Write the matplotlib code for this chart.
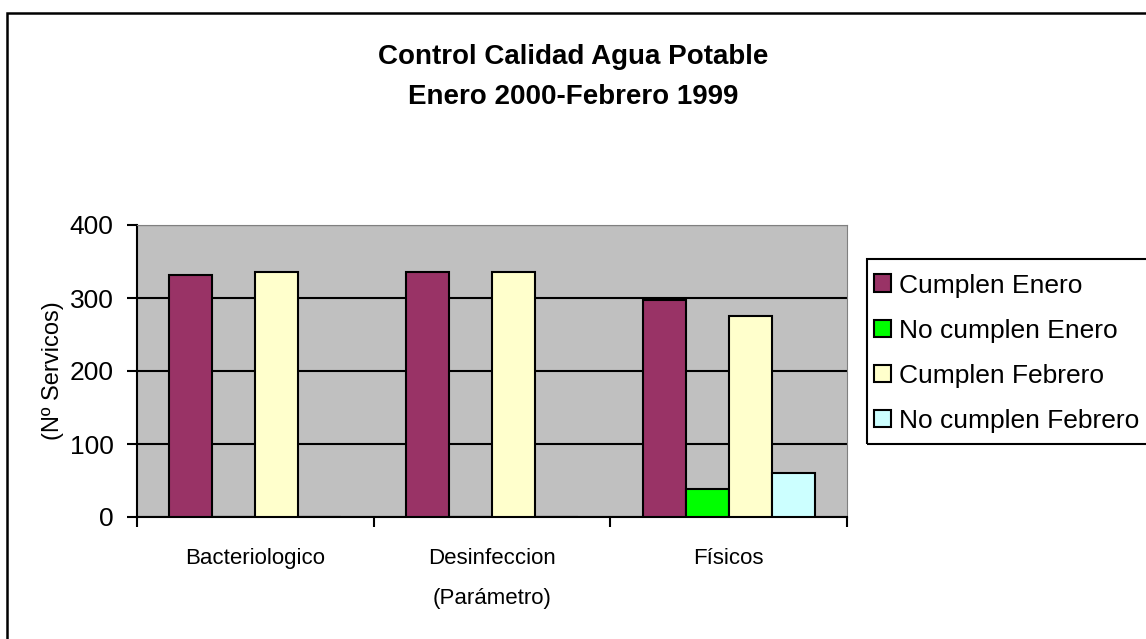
import numpy as np
import matplotlib
matplotlib.use("Agg")
import matplotlib.pyplot as plt
from matplotlib.patches import Rectangle

plt.rcParams['font.family'] = ['Liberation Sans', 'DejaVu Sans']

# Data
categories = ["Bacteriologico", "Desinfeccion", "Físicos"]
series_names = ["Cumplen Enero", "No cumplen Enero", "Cumplen Febrero", "No cumplen Febrero"]
cumplen_enero = [332, 335, 297]
no_cumplen_enero = [0, 0, 38]
cumplen_febrero = [335, 335, 275]
no_cumplen_febrero = [0, 0, 60]
series_colors = ["#993366", "#00FF00", "#FFFFCC", "#CCFFFF"]

values = [cumplen_enero, no_cumplen_enero, cumplen_febrero, no_cumplen_febrero]

fig = plt.figure(figsize=(11.46, 6.39), dpi=100)
ax = fig.add_axes([137/1146, 1 - 517/639, (847 - 137)/1146, (517 - 225)/639])

x = np.arange(len(categories))
w = 1 / 5.5
for j, (name, vals, col) in enumerate(zip(series_names, values, series_colors)):
    ax.bar(x + (j - 1.5) * w, vals, width=w, color=col, edgecolor="black",
           linewidth=1.5, label=name, zorder=3)

ax.set_facecolor("#C0C0C0")
ax.set_xlim(-0.5, len(categories) - 0.5)
ax.set_ylim(0, 400)
ax.set_yticks([0, 100, 200, 300, 400])
ax.yaxis.grid(True, color="black", linewidth=1.5, zorder=1)
ax.set_axisbelow(True)

# Spines like the old spreadsheet chart
ax.spines["top"].set_color("#808080")
ax.spines["right"].set_color("#808080")
for s in ["left", "bottom"]:
    ax.spines[s].set_color("black")
    ax.spines[s].set_linewidth(1.5)

ax.tick_params(axis="y", labelsize=19, length=7, width=1.5, pad=10)
ax.set_xticks(x)
ax.set_xticklabels(categories, fontsize=16)
ax.tick_params(axis="x", which="major", length=0, pad=22)
ax.set_xticks(np.arange(-0.5, len(categories)), minor=True)
ax.tick_params(axis="x", which="minor", length=7, width=1.5)

ax.set_ylabel("(Nº Servicos)", fontsize=17, labelpad=4)
ax.set_xlabel("(Parámetro)", fontsize=16, labelpad=14)

fig.text(0.5, 1 - 57/639, "Control Calidad Agua Potable", ha="center", va="center",
         fontsize=20, fontweight="bold")
fig.text(0.5, 1 - 97/639, "Enero 2000-Febrero 1999", ha="center", va="center",
         fontsize=20, fontweight="bold")

# Legend without its own frame, box drawn separately
leg = fig.legend(loc="upper left", bbox_to_anchor=(859/1146, 1 - 259/639),
                 fontsize=19, frameon=False,
                 handlelength=0.65, handleheight=0.65, handletextpad=0.3,
                 labelspacing=0.8, borderpad=0.55, borderaxespad=0)
fig.patches.append(Rectangle((867/1146, 1 - 444/639), 0.3, (444 - 259)/639,
                             transform=fig.transFigure, fill=False,
                             edgecolor="black", linewidth=1.5))

# Outer chart frame
fig.patches.append(Rectangle((7/1146, -0.1), 1.2, 1.1 - 13/639, transform=fig.transFigure,
                             fill=False, edgecolor="black", linewidth=1.8))

plt.savefig("out.png", dpi=100)
